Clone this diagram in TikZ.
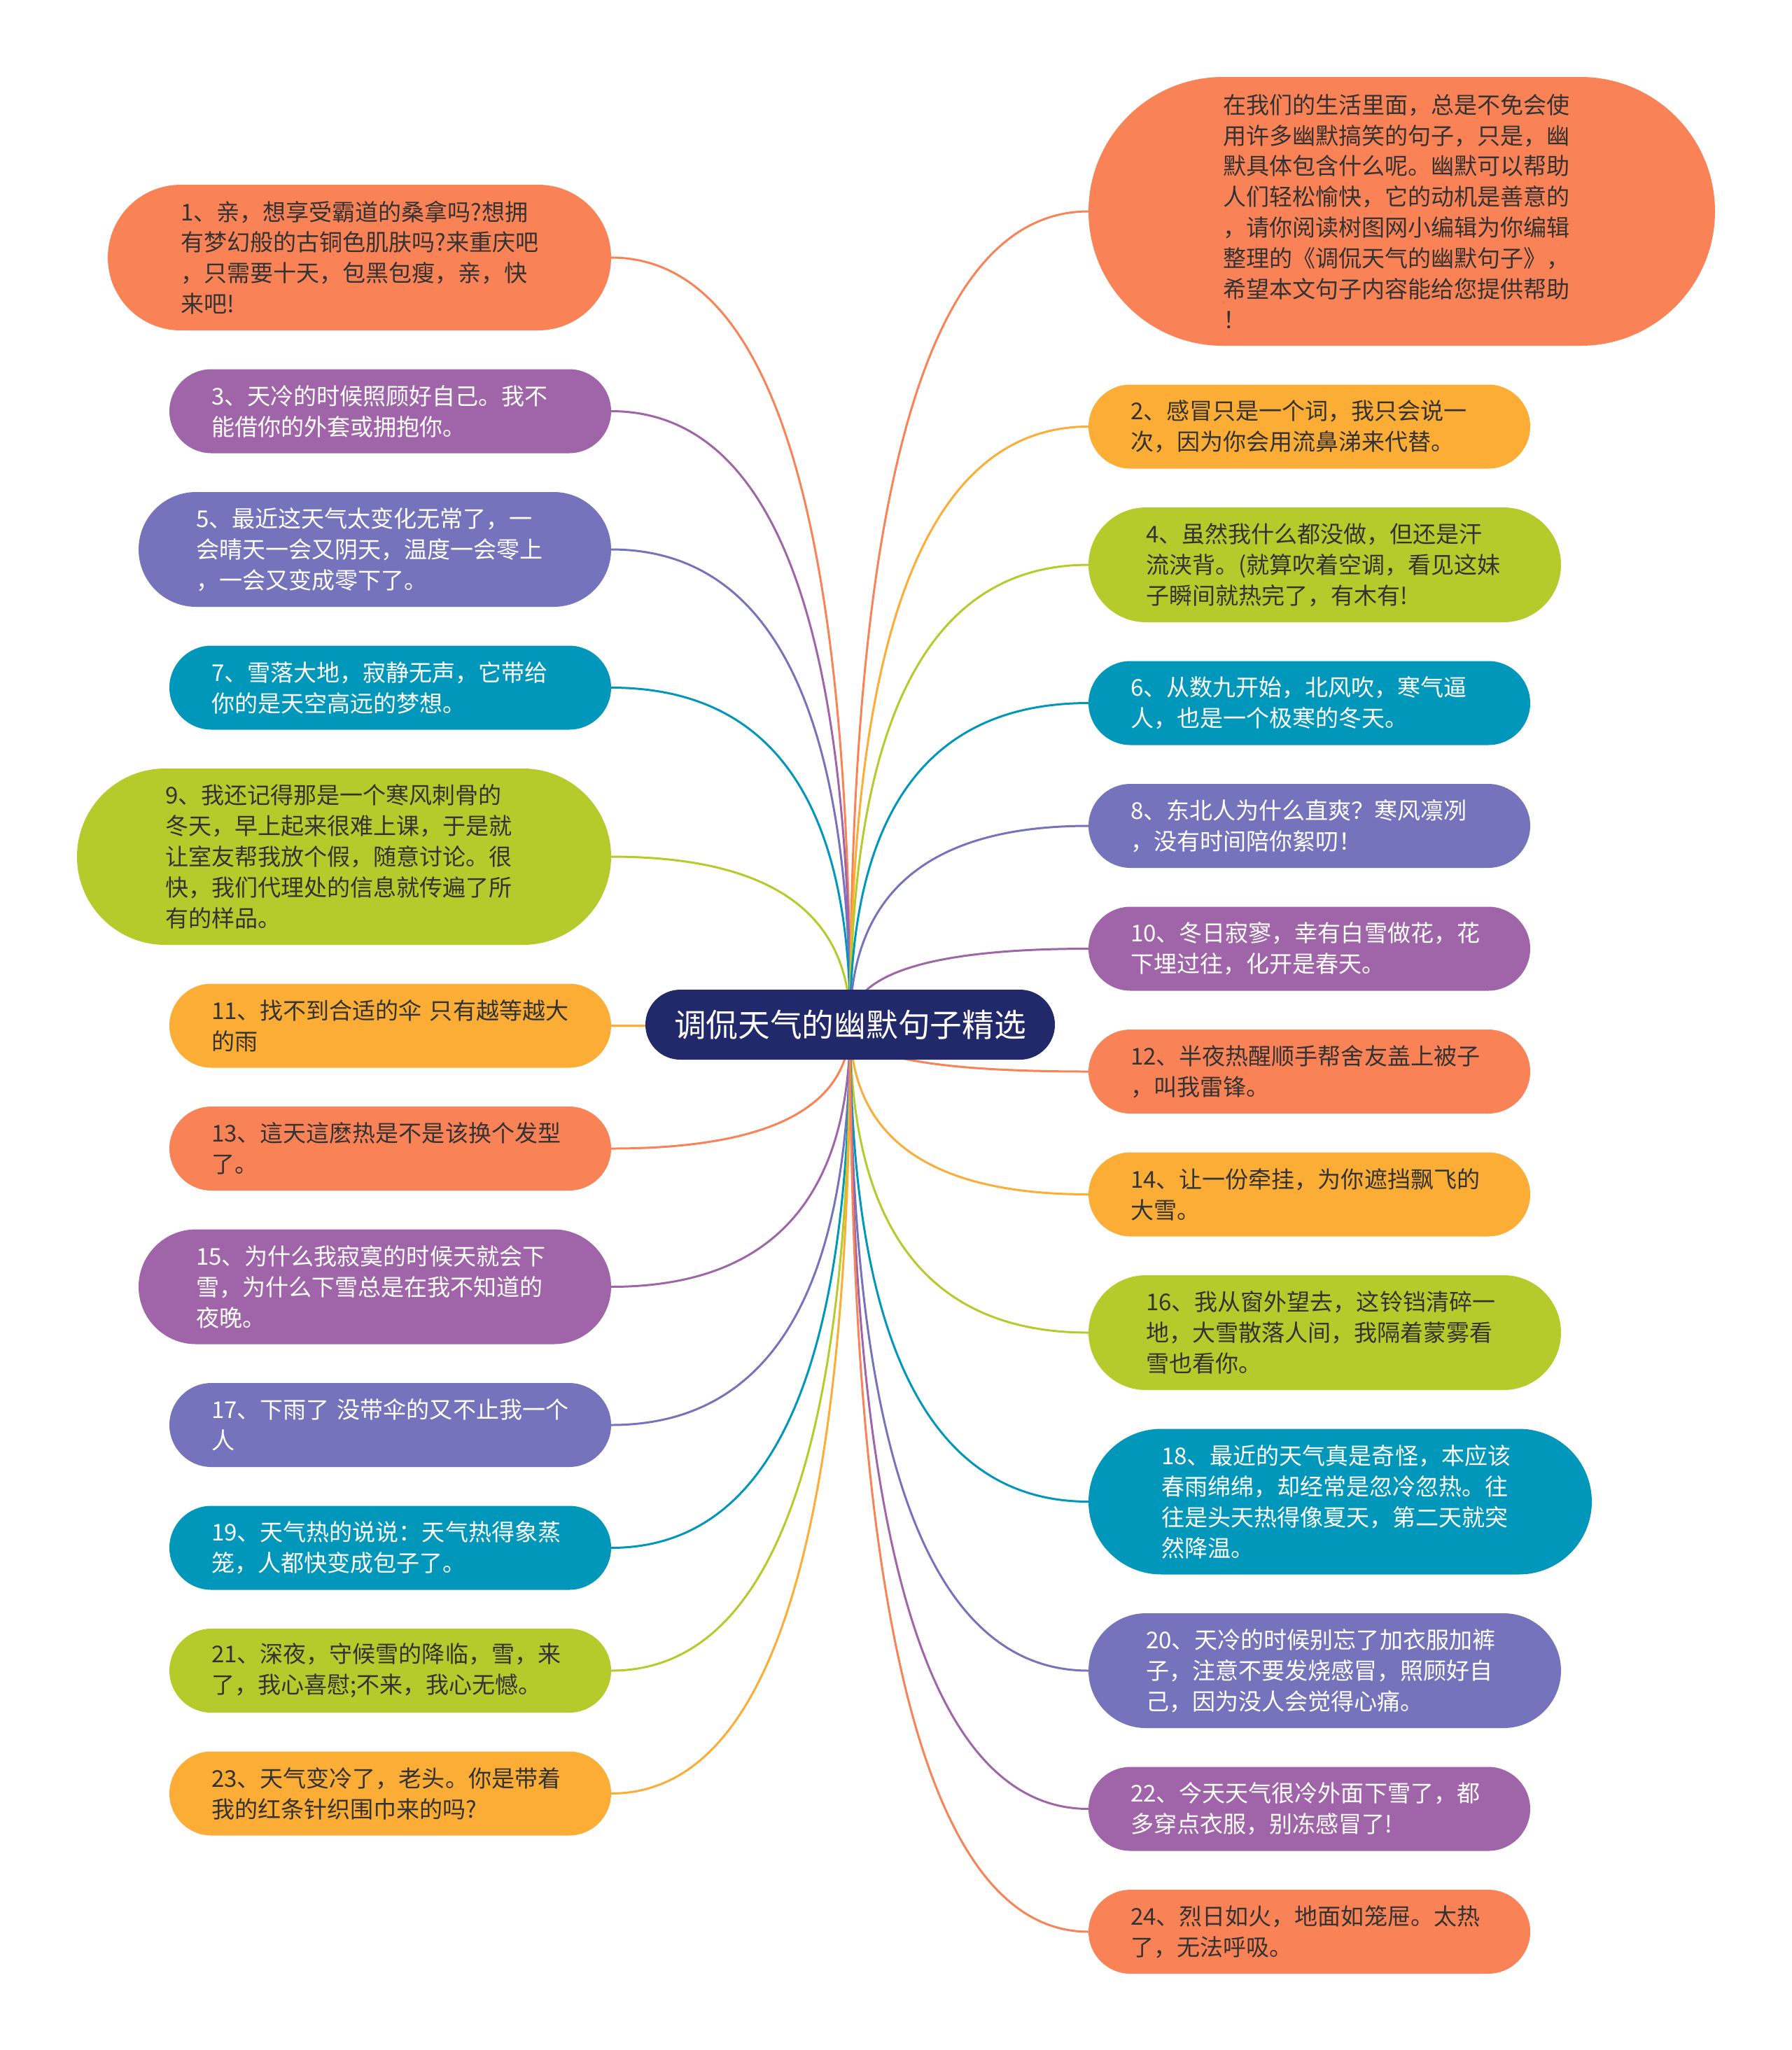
\documentclass[tikz,border=0pt]{standalone}
\usepackage{fontspec}
\setmainfont{Noto Sans CJK SC}
\usetikzlibrary{positioning,calc,backgrounds}
\definecolor{ink}{HTML}{333333}
\definecolor{cOrange}{HTML}{FA8257}
\definecolor{cYellow}{HTML}{FBAD36}
\definecolor{cLime}{HTML}{B5CA2B}
\definecolor{cTeal}{HTML}{0197BA}
\definecolor{cViolet}{HTML}{7573BB}
\definecolor{cPurple}{HTML}{A065A9}
\definecolor{cNavy}{HTML}{21296A}
\tikzset{
  leaf/.style={text width=5.11cm,align=left,inner sep=0pt,outer sep=0pt,
    font=\fontsize{9.4}{12.5}\selectfont},
  rows2/.style={minimum width=6.31cm,minimum height=1.20cm,rounded corners=0.60cm},
  rows3/.style={minimum width=6.75cm,minimum height=1.64cm,rounded corners=0.82cm},
  rows4/.style={minimum width=7.19cm,minimum height=2.08cm,rounded corners=1.04cm},
  rows5/.style={minimum width=7.63cm,minimum height=2.52cm,rounded corners=1.26cm},
  rows8/.style={minimum width=8.95cm,minimum height=3.84cm,rounded corners=1.92cm},
  fOrange/.style={fill=cOrange,text=ink},
  fYellow/.style={fill=cYellow,text=ink},
  fLime/.style={fill=cLime,text=ink},
  fTeal/.style={fill=cTeal,text=white},
  fViolet/.style={fill=cViolet,text=white},
  fPurple/.style={fill=cPurple,text=white},
  hub/.style={fill=cNavy,text=white,minimum width=5.85cm,minimum height=1.00cm,
    rounded corners=0.50cm,inner sep=0pt,outer sep=0pt,font=\fontsize{13}{16}\selectfont},
  link/.style={line width=0.85pt},
}
\begin{document}
\begin{tikzpicture}
\useasboundingbox (0,0) rectangle (25.6,-29.29);
\node[hub] (hub) at (12.145,-14.64) {调侃天气的幽默句子精选};
% left column
\node[leaf,rows4,fOrange,anchor=north east] (l1) at (8.73,-2.64) {1、亲，想享受霸道的桑拿吗?想拥\\有梦幻般的古铜色肌肤吗?来重庆吧\\，只需要十天，包黑包瘦，亲，快\\来吧!};
\node[leaf,rows2,fPurple,below=0.555cm of l1.south east,anchor=north east] (l3) {3、天冷的时候照顾好自己。我不\\能借你的外套或拥抱你。};
\node[leaf,rows3,fViolet,below=0.555cm of l3.south east,anchor=north east] (l5) {5、最近这天气太变化无常了，一\\会晴天一会又阴天，温度一会零上\\，一会又变成零下了。};
\node[leaf,rows2,fTeal,below=0.555cm of l5.south east,anchor=north east] (l7) {7、雪落大地，寂静无声，它带给\\你的是天空高远的梦想。};
\node[leaf,rows5,fLime,below=0.555cm of l7.south east,anchor=north east] (l9) {9、我还记得那是一个寒风刺骨的\\冬天，早上起来很难上课，于是就\\让室友帮我放个假，随意讨论。很\\快，我们代理处的信息就传遍了所\\有的样品。};
\node[leaf,rows2,fYellow,below=0.555cm of l9.south east,anchor=north east] (l11) {11、找不到合适的伞~只有越等越大\\的雨};
\node[leaf,rows2,fOrange,below=0.555cm of l11.south east,anchor=north east] (l13) {13、這天這麽热是不是该换个发型\\了。};
\node[leaf,rows3,fPurple,below=0.555cm of l13.south east,anchor=north east] (l15) {15、为什么我寂寞的时候天就会下\\雪，为什么下雪总是在我不知道的\\夜晚。};
\node[leaf,rows2,fViolet,below=0.555cm of l15.south east,anchor=north east] (l17) {17、下雨了~没带伞的又不止我一个\\人};
\node[leaf,rows2,fTeal,below=0.555cm of l17.south east,anchor=north east] (l19) {19、天气热的说说：天气热得象蒸\\笼，人都快变成包子了。};
\node[leaf,rows2,fLime,below=0.555cm of l19.south east,anchor=north east] (l21) {21、深夜，守候雪的降临，雪，来\\了，我心喜慰;不来，我心无憾。};
\node[leaf,rows2,fYellow,below=0.555cm of l21.south east,anchor=north east] (l23) {23、天气变冷了，老头。你是带着\\我的红条针织围巾来的吗?};
% right column
\node[leaf,rows8,fOrange,anchor=north west] (r0) at (15.55,-1.10) {在我们的生活里面，总是不免会使\\用许多幽默搞笑的句子，只是，幽\\默具体包含什么呢。幽默可以帮助\\人们轻松愉快，它的动机是善意的\\，请你阅读树图网小编辑为你编辑\\整理的《调侃天气的幽默句子》，\\希望本文句子内容能给您提供帮助\\！};
\node[leaf,rows2,fYellow,below=0.555cm of r0.south west,anchor=north west] (r2) {2、感冒只是一个词，我只会说一\\次，因为你会用流鼻涕来代替。};
\node[leaf,rows3,fLime,below=0.555cm of r2.south west,anchor=north west] (r4) {4、虽然我什么都没做，但还是汗\\流浃背。(就算吹着空调，看见这妹\\子瞬间就热完了，有木有!};
\node[leaf,rows2,fTeal,below=0.555cm of r4.south west,anchor=north west] (r6) {6、从数九开始，北风吹，寒气逼\\人，也是一个极寒的冬天。};
\node[leaf,rows2,fViolet,below=0.555cm of r6.south west,anchor=north west] (r8) {8、东北人为什么直爽？寒风凛冽\\，没有时间陪你絮叨！};
\node[leaf,rows2,fPurple,below=0.555cm of r8.south west,anchor=north west] (r10) {10、冬日寂寥，幸有白雪做花，花\\下埋过往，化开是春天。};
\node[leaf,rows2,fOrange,below=0.555cm of r10.south west,anchor=north west] (r12) {12、半夜热醒顺手帮舍友盖上被子\\，叫我雷锋。};
\node[leaf,rows2,fYellow,below=0.555cm of r12.south west,anchor=north west] (r14) {14、让一份牵挂，为你遮挡飘飞的\\大雪。};
\node[leaf,rows3,fLime,below=0.555cm of r14.south west,anchor=north west] (r16) {16、我从窗外望去，这铃铛清碎一\\地，大雪散落人间，我隔着蒙雾看\\雪也看你。};
\node[leaf,rows4,fTeal,below=0.555cm of r16.south west,anchor=north west] (r18) {18、最近的天气真是奇怪，本应该\\春雨绵绵，却经常是忽冷忽热。往\\往是头天热得像夏天，第二天就突\\然降温。};
\node[leaf,rows3,fViolet,below=0.555cm of r18.south west,anchor=north west] (r20) {20、天冷的时候别忘了加衣服加裤\\子，注意不要发烧感冒，照顾好自\\己，因为没人会觉得心痛。};
\node[leaf,rows2,fPurple,below=0.555cm of r20.south west,anchor=north west] (r22) {22、今天天气很冷外面下雪了，都\\多穿点衣服，别冻感冒了!};
\node[leaf,rows2,fOrange,below=0.555cm of r22.south west,anchor=north west] (r24) {24、烈日如火，地面如笼屉。太热\\了，无法呼吸。};
% links behind the boxes
\begin{scope}[on background layer]
\foreach \n/\col in {l1/cOrange,l3/cPurple,l5/cViolet,l7/cTeal,l9/cLime,l11/cYellow,
    l13/cOrange,l15/cPurple,l17/cViolet,l19/cTeal,l21/cLime,l23/cYellow}
  \draw[link,draw=\col] (hub.center) .. controls ($(hub.center)!.667!(hub.center |- \n.east)$)
    and ($(\n.east)!.667!(hub.center |- \n.east)$) .. (\n.east);
\foreach \n/\col in {r0/cOrange,r2/cYellow,r4/cLime,r6/cTeal,r8/cViolet,r10/cPurple,
    r12/cOrange,r14/cYellow,r16/cLime,r18/cTeal,r20/cViolet,r22/cPurple,r24/cOrange}
  \draw[link,draw=\col] (hub.center) .. controls ($(hub.center)!.667!(hub.center |- \n.west)$)
    and ($(\n.west)!.667!(hub.center |- \n.west)$) .. (\n.west);
\end{scope}
\end{tikzpicture}
\end{document}
